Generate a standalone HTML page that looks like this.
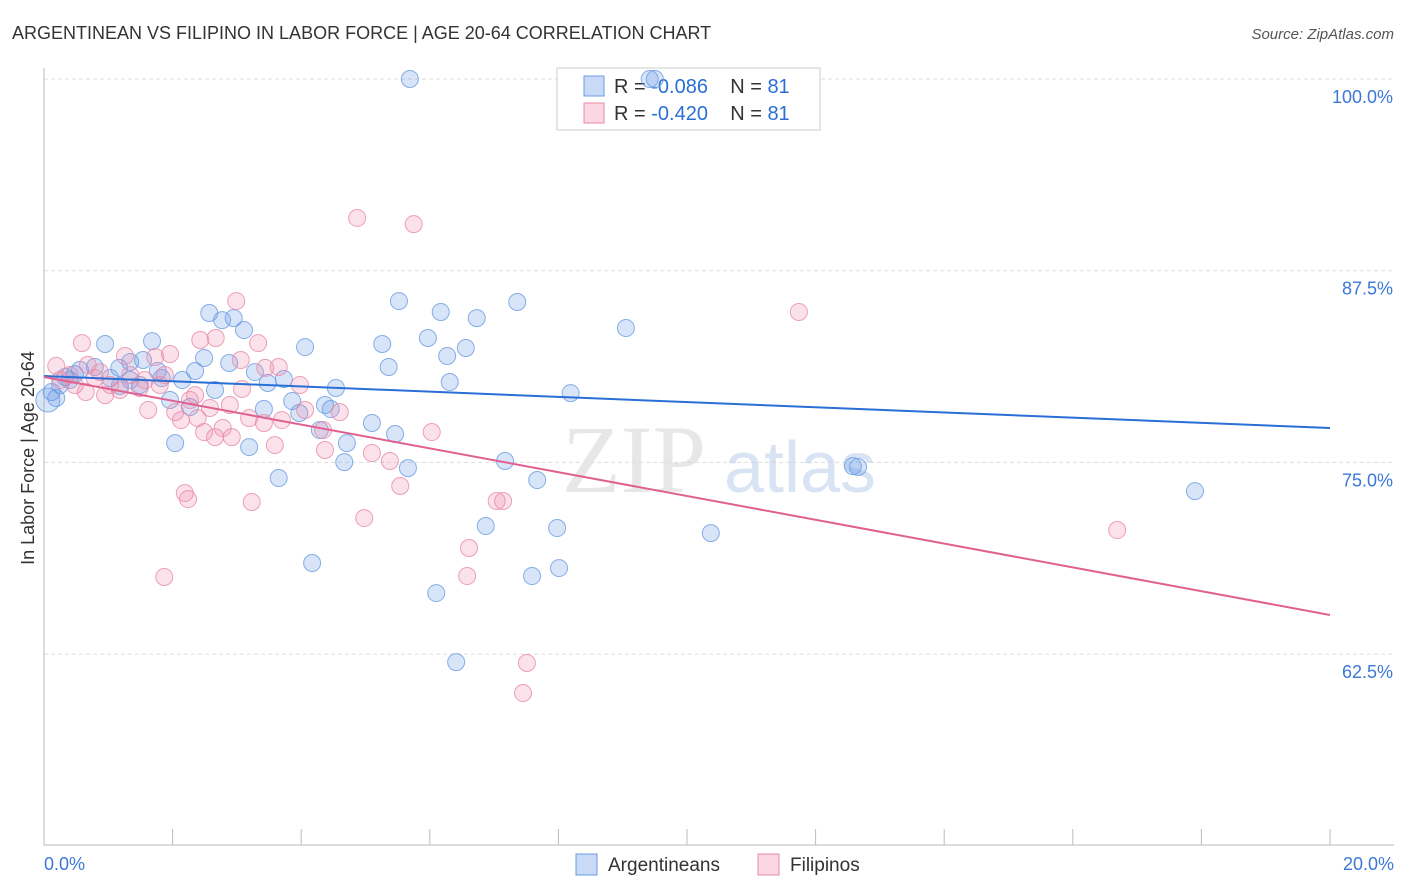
<!DOCTYPE html>
<html><head><meta charset="utf-8">
<style>
body{margin:0;background:#fff;font-family:"Liberation Sans",sans-serif;}
#wrap{position:relative;width:1406px;height:892px;overflow:hidden;}
</style></head>
<body>
<div id="wrap">
<svg id="chart" width="1406" height="892" xmlns="http://www.w3.org/2000/svg">
<text x="12" y="39" font-size="18" fill="#333">ARGENTINEAN VS FILIPINO IN LABOR FORCE | AGE 20-64 CORRELATION CHART</text>
<text x="1394" y="39" font-size="15" fill="#555" text-anchor="end" font-style="italic">Source: ZipAtlas.com</text>
<text x="34" y="458" font-size="18" fill="#333" text-anchor="middle" transform="rotate(-90 34 458)">In Labor Force | Age 20-64</text>
<g id="grid"></g>
<g>
<text x="634" y="492" font-size="96" fill="#ddd" font-family="Liberation Serif,serif" text-anchor="middle" opacity="0.7">ZIP</text>
<text x="800" y="492" font-size="72" fill="#c8d8ee" text-anchor="middle" opacity="0.7">atlas</text>
</g>
<g>
<rect x="557" y="68" width="263" height="62" fill="#fff" stroke="#ccc"/>
<rect x="584" y="76" width="20" height="20" fill="rgba(100,150,230,0.35)" stroke="#6a9be0"/>
<rect x="584" y="103" width="20" height="20" fill="rgba(240,140,170,0.35)" stroke="#e88aa8"/>
<text x="614" y="93" font-size="20" fill="#333">R = <tspan fill="#2a6fd6">-0.086</tspan>&#160;&#160;&#160;&#160;N = <tspan fill="#2a6fd6">81</tspan></text>
<text x="614" y="120" font-size="20" fill="#333">R = <tspan fill="#2a6fd6">-0.420</tspan>&#160;&#160;&#160;&#160;N = <tspan fill="#2a6fd6">81</tspan></text>
</g>
<g id="pts"></g>
<g id="lines"></g>
<g>
<rect x="576" y="854" width="21" height="21" fill="rgba(100,150,230,0.35)" stroke="#6a9be0"/>
<text x="608" y="871" font-size="19" fill="#333">Argentineans</text>
<rect x="758" y="854" width="21" height="21" fill="rgba(240,140,170,0.35)" stroke="#e88aa8"/>
<text x="790" y="871" font-size="19" fill="#333">Filipinos</text>
</g>
</svg>
</div>
<script>
const yTicks=[100,87.5,75,62.5];
const yTickLabels=["100.0%","87.5%","75.0%","62.5%"];
const xTickLabels=["0.0%","20.0%"];
const blueX=[5.69,9.50,9.42,2.57,2.77,2.95,3.11,1.68,0.95,1.54,2.49,2.88,4.06,5.52,6.17,6.73,7.36,5.97,5.26,6.27,6.56,5.36,9.05,6.31,8.19,4.54,3.28,3.73,3.48,2.35,2.15,1.77,1.83,1.34,1.17,1.03,0.56,0.40,0.25,0.12,0.19,0.06,1.96,2.27,2.66,3.42,3.86,3.97,4.37,4.46,5.10,5.46,4.29,4.71,4.67,2.04,3.19,3.65,5.66,7.17,7.67,6.87,7.98,10.37,12.58,12.66,17.90,4.17,7.59,8.01,6.10,6.41,1.34,0.79,1.18,1.49,0.33,0.48];
const blueY=[100,100,100,84.74,84.28,84.41,83.63,82.91,82.72,81.68,81.81,81.48,82.52,85.52,84.81,84.41,85.46,83.11,82.72,81.94,82.46,81.22,83.76,80.24,79.52,79.85,80.89,80.44,80.18,80.96,80.37,80.96,80.50,81.55,81.16,80.50,81.03,80.37,80.05,79.59,79.20,79.07,79.07,78.61,79.72,78.48,79.00,78.22,78.74,78.48,77.57,76.85,77.11,76.26,75.02,76.26,76.00,73.98,74.63,75.09,73.85,70.85,70.72,70.39,74.76,74.70,73.13,68.44,67.59,68.11,66.48,61.98,80.37,81.22,79.98,80.05,80.57,80.76];
const pinkX=[4.87,5.75,2.99,11.74,0.59,2.43,2.67,3.33,0.19,0.40,0.68,0.87,1.26,1.73,1.96,3.65,3.08,3.98,3.06,0.65,0.95,1.18,1.57,1.80,1.62,2.04,2.13,2.39,2.58,2.27,2.49,2.66,2.78,2.92,3.19,3.42,3.59,3.70,4.06,4.34,4.37,4.60,5.10,5.38,5.54,6.03,2.19,2.24,3.23,4.98,6.61,7.04,7.14,6.58,1.87,7.51,7.45,16.69,0.25,0.48,0.79,1.03,1.34,1.49,1.88,3.44,2.89,2.35];
const pinkY=[90.94,90.54,85.52,84.81,82.78,82.98,83.11,82.78,81.29,80.70,81.35,80.89,81.94,81.87,82.07,81.22,79.79,80.05,81.68,79.59,79.39,79.72,80.37,80.05,78.42,78.28,77.76,77.89,78.55,79.07,76.98,76.65,77.24,76.65,77.89,77.57,76.13,77.76,78.42,77.11,75.81,78.28,75.61,75.09,73.46,76.98,73.00,72.61,72.42,71.37,69.42,72.48,72.48,67.59,67.53,61.92,59.96,70.59,80.37,80.05,80.50,80.05,80.70,79.85,80.70,81.16,78.74,79.39];
const blueTrend=[80.63,77.24];
const pinkTrend=[80.57,65.05];

const NS="http://www.w3.org/2000/svg";
const xs=v=>44+v/20*1286;
const ys=v=>79+(100-v)/12.5*191.7;
function mk(tag,attrs,parent){const e=document.createElementNS(NS,tag);for(const k in attrs)e.setAttribute(k,attrs[k]);parent.appendChild(e);return e;}
const grid=document.getElementById('grid');
yTicks.forEach((t,i)=>{
  const l=mk('line',{x1:44,x2:1394,y1:ys(t),y2:ys(t),stroke:'#ddd','stroke-dasharray':'4,3'},grid);
  
  
  const tx=mk('text',{x:1393,y:ys(t)+24,'font-size':18,fill:'#3b78d8','text-anchor':'end'},grid);
  tx.textContent=yTickLabels[i];
  
  
});
const ax=mk('line',{x1:44,x2:1394,y1:845,y2:845,stroke:'#bbb'},grid);


const ay=mk('line',{x1:44,x2:44,y1:68,y2:845,stroke:'#bbb'},grid);


for(let i=0;i<=10;i++){
  const t=mk('line',{x1:xs(i*2),x2:xs(i*2),y1:829,y2:845,stroke:'#bbb'},grid);
  
  
}
[[0,'start',44],[20,'end',1394]].forEach((d,i)=>{
  const t=mk('text',{x:d[2],y:870,'font-size':18,fill:'#3b78d8','text-anchor':d[1]},grid);
  t.textContent=xTickLabels[i];
  
  
});
const pts=document.getElementById('pts');
function drawPts(X,Y,fill,stroke,name){
  X.forEach((x,i)=>{
    const r=(x<0.1)?12:8.5;
    const c=mk('circle',{cx:xs(x),cy:ys(Y[i]),r:r,fill:fill,stroke:stroke,'stroke-width':1,'stroke-opacity':0.8},pts);
    
    
  });
}
drawPts(blueX,blueY,'rgba(100,150,230,0.25)','#6a9be0','point-argentinean');
drawPts(pinkX,pinkY,'rgba(240,140,170,0.25)','#e88aa8','point-filipino');
const lines=document.getElementById('lines');
const bl=mk('line',{x1:xs(0),y1:ys(blueTrend[0]),x2:xs(20),y2:ys(blueTrend[1]),stroke:'#2a6fd6','stroke-width':2},lines);


const pl=mk('line',{x1:xs(0),y1:ys(pinkTrend[0]),x2:xs(20),y2:ys(pinkTrend[1]),stroke:'#e06090','stroke-width':2},lines);


</script>
</body></html>
